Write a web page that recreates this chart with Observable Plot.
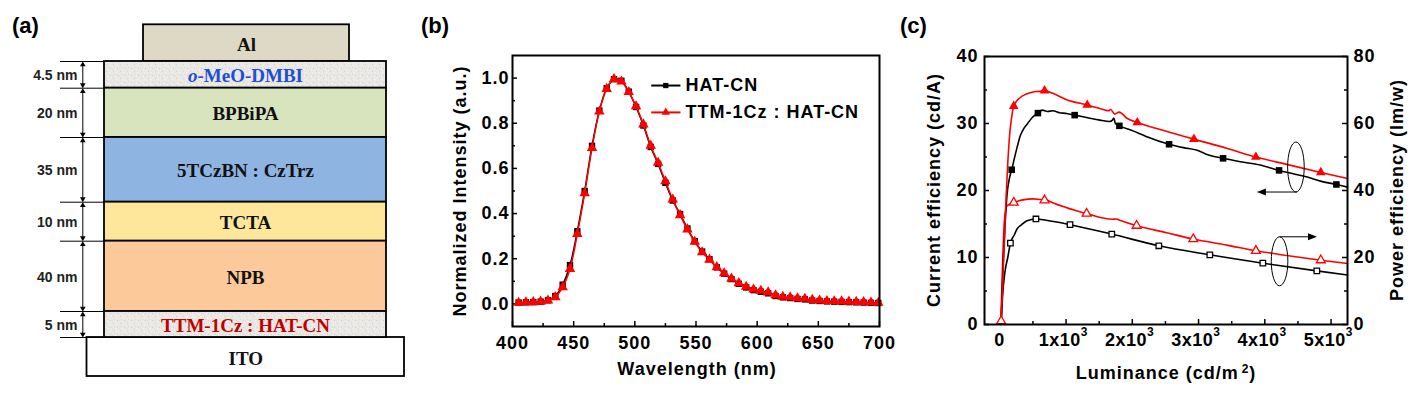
<!DOCTYPE html>
<html><head><meta charset="utf-8">
<script src="https://cdn.jsdelivr.net/npm/d3@7"></script>
<script src="https://cdn.jsdelivr.net/npm/@observablehq/plot@0.6"></script>
<style>
html,body{margin:0;padding:0;background:#fff;}
#root{position:relative;width:1427px;height:398px;overflow:hidden;background:#fff;}
#root svg{position:absolute;top:0;}
</style></head><body><div id="root"></div>
<script>
// ================= Panel (a): device stack =================
const layerNames = ["o-MeO-DMBI", "BPBiPA", "5TCzBN : CzTrz", "TCTA", "NPB", "TTM-1Cz : HAT-CN"];
const layerThickness = ["4.5 nm", "20 nm", "35 nm", "10 nm", "40 nm", "5 nm"];
const layerFills = ["url(#speckle)", "#d8e4bd", "#8eb4e2", "#fee79b", "#fcc99a", "url(#speckle)"];
const layerTextColors = ["#1f4fd0", "#111111", "#111111", "#111111", "#111111", "#c00000"];
const layerDrawHeights = [26.7, 49.3, 64.7, 39, 70.3, 26];   // drawn heights (layout units)
const electrodeNames = ["Al", "ITO"];
const electrodeFills = ["#ddd9c4", "#ffffff"];
const electrodeDrawHeights = [36.7, 39];

// ================= Panel (b): EL spectra =================
const wavelengths = [405,411,417,423,429,435,441,447,453,459,465,471,477,483,489,495,501,507,513,519,525,531,537,543,549,555,561,567,573,579,585,591,597,603,609,615,621,627,633,639,645,651,657,663,669,675,681,687,693,699];
const intensityHATCN = [0.006,0.007,0.008,0.010,0.016,0.035,0.085,0.172,0.322,0.500,0.700,0.856,0.955,0.995,0.988,0.940,0.872,0.790,0.695,0.620,0.536,0.458,0.398,0.334,0.278,0.232,0.198,0.162,0.134,0.110,0.089,0.073,0.061,0.054,0.047,0.035,0.029,0.026,0.022,0.020,0.015,0.013,0.011,0.010,0.009,0.008,0.007,0.006,0.005,0.004];
const intensityTTM = [0.005,0.007,0.008,0.010,0.015,0.030,0.074,0.155,0.310,0.490,0.690,0.852,0.952,0.996,0.985,0.938,0.875,0.795,0.700,0.625,0.543,0.462,0.393,0.330,0.275,0.229,0.196,0.163,0.136,0.112,0.092,0.076,0.064,0.058,0.051,0.038,0.032,0.029,0.025,0.023,0.018,0.015,0.013,0.012,0.011,0.010,0.009,0.008,0.006,0.005];
const seriesNames = ["HAT-CN", "TTM-1Cz : HAT-CN"];
const xTicksB = [400,450,500,550,600,650,700];
const xMinorB = [425,475,525,575,625,675];
const yTicksB = [0,0.2,0.4,0.6,0.8,1.0];
const yMinorB = [0.1,0.3,0.5,0.7,0.9];

// ================= Panel (c): efficiencies =================
// [luminance (cd/m2), current efficiency (cd/A)]
const ceLineHATCN = [[20,0],[35,5],[55,10],[80,15],[110,19.5],[145,21.8],[180,23.1],[220,24.8],[260,26.4],[310,28.2],[360,29.2],[420,30.0],[490,30.9],[575,31.55],[640,32.0],[720,31.8],[800,31.9],[900,31.6],[1010,31.5],[1130,31.25],[1310,30.9],[1510,30.5],[1660,30.3],[1700,30.5],[1720,30.8],[1745,30.0],[1805,29.65],[2010,28.9],[2200,28.1],[2555,26.9],[2770,26.4],[2980,26.0],[3150,25.3],[3370,24.8],[3630,24.3],[3930,23.8],[4215,23.0],[4430,22.5],[4640,22.0],[4840,21.4],[5080,20.9],[5248,20.5]];
const ceMarkHATCN = [[180,23.1],[575,31.55],[1130,31.25],[1805,29.65],[2555,26.9],[3370,24.8],[4215,23.0],[5080,20.9]];
const ceLineTTM = [[15,0.4],[35,4],[55,9],[75,14],[95,19],[120,24],[150,28.5],[180,31],[210,32.6],[300,33.8],[400,34.4],[500,34.7],[600,34.8],[675,34.9],[800,34.5],[1000,33.6],[1320,32.75],[1560,32.1],[1640,31.9],[1675,32.1],[1735,31.4],[1800,31.7],[1925,30.75],[2075,30.15],[2420,29.1],[2930,27.67],[3425,26.3],[3865,25.0],[4330,23.9],[4845,22.7],[5248,21.8]];
const ceMarkTTM = [[210,32.6],[675,34.9],[1320,32.75],[2075,30.15],[2930,27.67],[3865,25.0],[4845,22.7]];
// [luminance (cd/m2), power efficiency (lm/W)]
const peLineHATCN = [[20,0],[40,8],[80,16],[120,20],[160,24.3],[220,26.8],[260,28.5],[330,29.8],[410,31],[545,31.5],[700,31.1],[1060,29.8],[1690,27],[2400,23.5],[3170,20.8],[3970,18.3],[4785,16.0],[5248,14.8]];
const peMarkHATCN = [[160,24.3],[545,31.5],[1060,29.8],[1690,27],[2400,23.5],[3170,20.8],[3970,18.3],[4785,16.0]];
const peLineTTM = [[15,1],[30,10],[45,20],[60,28],[80,33],[110,35.5],[210,36.4],[350,37.2],[500,37.5],[640,37.3],[675,37.6],[720,37.1],[1000,34.9],[1310,33.1],[1700,31.4],[1760,31.5],[1800,31.2],[2065,29.5],[2520,27.4],[2920,25.5],[3425,23.7],[3865,22],[4330,20.6],[4845,19.2],[5248,18.2]];
const peMarkTTM = [[20,1],[210,36.4],[675,37.1],[1310,33.1],[2065,29.5],[2920,25.5],[3865,22],[4845,19.2]];
const xTicksC = [0,1000,2000,3000,4000,5000];
const xMinorC = [500,1500,2500,3500,4500];
const yTicksC = [0,10,20,30,40];      // current efficiency
const yMinorC = [5,15,25,35];
const peScale = 2;                    // right axis = 2 x left axis

const FONT = '"Liberation Sans", Arial, Helvetica, sans-serif';
const SERIF = '"Liberation Serif", "Times New Roman", serif';
const root = document.getElementById("root");

// ---------- Panel (a) ----------
(function(){
  const stackX = [104, 386], alX = [143, 349], itoX = [86.5, 404];
  const stackTop = 61;
  let acc = stackTop;
  const layers = layerNames.map((n, i) => {
    const y1 = acc; acc += layerDrawHeights[i];
    return {name: n, thick: layerThickness[i], fill: layerFills[i], color: layerTextColors[i], x1: stackX[0], x2: stackX[1], y1, y2: acc};
  });
  const bottom = acc;
  const electrodes = [
    {name: electrodeNames[0], fill: electrodeFills[0], color: "#111111", x1: alX[0], x2: alX[1], y1: stackTop - electrodeDrawHeights[0], y2: stackTop},
    {name: electrodeNames[1], fill: electrodeFills[1], color: "#111111", x1: itoX[0], x2: itoX[1], y1: bottom, y2: bottom + electrodeDrawHeights[1]}
  ];
  const boxes = [...electrodes, ...layers];
  const boundaries = [stackTop, ...layers.map(d => d.y2)];
  const arrowX = 82.3;
  const svg = Plot.plot({
    width: 420, height: 398, margin: 0,
    x: {domain: [0, 420], range: [0, 420], axis: null},
    y: {domain: [0, 398], range: [0, 398], axis: null},
    color: {type: "identity"},
    style: {background: "transparent", overflow: "visible"},
    marks: [
      Plot.rect(boxes, {x1: "x1", x2: "x2", y1: "y1", y2: "y2", fill: "fill", stroke: "#000", strokeWidth: 1.8}),
      Plot.text(boxes, {x: d => (d.x1 + d.x2) / 2, y: d => (d.y1 + d.y2) / 2, dy: 1.5, text: "name", fill: "color",
        fontFamily: SERIF, fontWeight: "bold", fontSize: 19}),
      Plot.ruleY(boundaries, {y: d => d, x1: 60, x2: stackX[0], stroke: "#000", strokeWidth: 1}),
      Plot.link(layers, {x1: arrowX, x2: arrowX, y1: d => d.y1 + 3, y2: d => d.y2 - 3, stroke: "#000", strokeWidth: 1}),
      Plot.dot(layers, {x: arrowX, y: "y1", dy: 3.2, symbol: "triangle", r: 2.1, fill: "#000", stroke: null}),
      Plot.dot(layers, {x: arrowX, y: "y2", dy: -3.2, symbol: "triangle", rotate: 180, r: 2.1, fill: "#000", stroke: null}),
      Plot.text(layers, {x: 77, y: d => (d.y1 + d.y2) / 2, dy: 1, text: "thick", textAnchor: "end",
        fontFamily: FONT, fontWeight: "bold", fontSize: 14, fill: "#222"})
    ]
  });
  // speckled texture for the thin layers
  const defs = d3.select(svg).insert("defs", ":first-child");
  const pat = defs.append("pattern").attr("id", "speckle").attr("patternUnits", "userSpaceOnUse").attr("width", 7).attr("height", 7);
  pat.append("rect").attr("width", 7).attr("height", 7).attr("fill", "#e9e8e5");
  [[1,1,"#d4d3cf"],[4,2,"#f6f6f4"],[2,4,"#dcdbd7"],[5,5,"#d0cfcb"],[6,0,"#f3f3f1"],[0,6,"#dedcd8"],[3,6,"#f5f5f3"]]
    .forEach(([x, y, c]) => pat.append("rect").attr("x", x).attr("y", y).attr("width", 1).attr("height", 1).attr("fill", c));
  // italic "o" prefix
  d3.select(svg).selectAll("text").each(function(){
    if (this.textContent === "o-MeO-DMBI") {
      const t = d3.select(this); t.text(null);
      t.append("tspan").attr("font-style", "italic").text("o");
      t.append("tspan").text("-MeO-DMBI");
    }
  });
  svg.style.left = "0px";
  root.appendChild(svg);
})();

// ---------- Panel (b) ----------
(function(){
  const red = wavelengths.map((w, i) => ({w, v: intensityTTM[i]}));
  const blk = wavelengths.map((w, i) => ({w, v: intensityHATCN[i]}));
  const fh = 398 - 55 - 72, fw = 460 - 72 - 21;
  const leg = [{name: seriesNames[0], y: 0.967, color: "#000", symbol: "square", r: 3.6},
               {name: seriesNames[1], y: 0.848, color: "#ff0000", symbol: "triangle", r: 4.0}];
  const svg = Plot.plot({
    width: 460, height: 398, marginLeft: 72, marginRight: 21, marginTop: 55, marginBottom: 72,
    x: {domain: [400, 700], label: null},
    y: {domain: [-0.1, 1.1], label: null},
    style: {fontFamily: FONT, fontSize: "18px", fontWeight: "bold", letterSpacing: "1px", background: "transparent", overflow: "visible", color: "#000"},
    marks: [
      Plot.tickX(xTicksB, {x: d => d, insetTop: fh - 5, stroke: "#000", strokeWidth: 1.5}),
      Plot.tickX(xMinorB, {x: d => d, insetTop: fh - 3, stroke: "#000", strokeWidth: 1.5}),
      Plot.tickY(yTicksB, {y: d => d, insetRight: fw - 5, stroke: "#000", strokeWidth: 1.5}),
      Plot.tickY(yMinorB, {y: d => d, insetRight: fw - 3, stroke: "#000", strokeWidth: 1.5}),
      Plot.line(blk, {x: "w", y: "v", stroke: "#000", strokeWidth: 1.5, curve: "catmull-rom"}),
      Plot.dot(blk, {x: "w", y: "v", symbol: "square", r: 3.6, fill: "#000", stroke: null}),
      Plot.line(red, {x: "w", y: "v", stroke: "#ff0000", strokeWidth: 1.5, curve: "catmull-rom"}),
      Plot.dot(red, {x: "w", y: "v", symbol: "triangle", r: 3.9, fill: "#ff0000", stroke: null}),
      Plot.link(leg, {x1: 513.4, x2: 537.3, y1: "y", y2: "y", stroke: "color", strokeWidth: 2}),
      Plot.dot(leg, {x: 525.3, y: "y", symbol: "symbol", r: "r", fill: "color", stroke: null}),
      Plot.text(leg, {x: 541.4, y: "y", text: "name", textAnchor: "start", fontSize: 18, fontWeight: "bold", fill: "#000"}),
      Plot.frame({stroke: "#000", strokeWidth: 2}),
      Plot.axisX({ticks: xTicksB, tickSize: 0, tickPadding: 10, fontSize: 18, fontWeight: "bold"}),
      Plot.axisY({ticks: yTicksB, tickFormat: d3.format(".1f"), tickSize: 0, tickPadding: 3, fontSize: 18, fontWeight: "bold"})
    ]
  });
  svg.style.left = "440px";
  root.appendChild(svg);
})();

// ---------- Panel (c) ----------
(function(){
  const fh = 398 - 56 - 74, fw = 527 - 84 - 80;
  const xy = {x: d => d[0], y: d => d[1]};
  const xyPE = {x: d => d[0], y: d => d[1] / peScale};
  const svg = Plot.plot({
    width: 527, height: 398, marginLeft: 84, marginRight: 80, marginTop: 56, marginBottom: 74,
    x: {domain: [-231, 5248], label: null},
    y: {domain: [0, 40], label: null},
    style: {fontFamily: FONT, fontSize: "18px", fontWeight: "bold", letterSpacing: "1px", background: "transparent", overflow: "visible", color: "#000"},
    marks: [
      Plot.tickX(xTicksC, {x: d => d, insetTop: fh - 5, stroke: "#000", strokeWidth: 1.5}),
      Plot.tickX(xMinorC, {x: d => d, insetTop: fh - 3, stroke: "#000", strokeWidth: 1.5}),
      Plot.tickY(yTicksC, {y: d => d, insetRight: fw - 5, stroke: "#000", strokeWidth: 1.5}),
      Plot.tickY(yMinorC, {y: d => d, insetRight: fw - 3, stroke: "#000", strokeWidth: 1.5}),
      Plot.tickY(yTicksC, {y: d => d, insetLeft: fw - 5, stroke: "#000", strokeWidth: 1.5}),
      Plot.tickY(yMinorC, {y: d => d, insetLeft: fw - 3, stroke: "#000", strokeWidth: 1.5}),
      Plot.line(peLineHATCN, {...xyPE, stroke: "#000", strokeWidth: 1.6, curve: "monotone-x"}),
      Plot.line(peLineTTM, {...xyPE, stroke: "#ff0000", strokeWidth: 1.6, curve: "monotone-x"}),
      Plot.line(ceLineHATCN, {...xy, stroke: "#000", strokeWidth: 1.6, curve: "monotone-x"}),
      Plot.line(ceLineTTM, {...xy, stroke: "#ff0000", strokeWidth: 1.6, curve: "monotone-x"}),
      Plot.dot(peMarkHATCN, {...xyPE, symbol: "square", r: 3.1, fill: "#fff", stroke: "#000", strokeWidth: 1.3}),
      Plot.dot(peMarkTTM, {...xyPE, symbol: "triangle", r: 3.3, fill: "#fff", stroke: "#ff0000", strokeWidth: 1.3}),
      Plot.dot(ceMarkHATCN, {...xy, symbol: "square", r: 3.7, fill: "#000", stroke: null}),
      Plot.dot(ceMarkTTM, {...xy, symbol: "triangle", r: 3.6, fill: "#ff0000", stroke: null}),
      Plot.frame({stroke: "#000", strokeWidth: 2}),
      Plot.axisX({ticks: xTicksC, tickFormat: d => d === 0 ? "0" : `${d / 1000}x10^3`, tickSize: 0, tickPadding: 9, fontSize: 18, fontWeight: "bold"}),
      Plot.axisY({ticks: yTicksC, tickSize: 0, tickPadding: 6, fontSize: 18, fontWeight: "bold"}),
      Plot.axisY({anchor: "right", ticks: yTicksC, tickFormat: d => String(d * peScale), tickSize: 0, tickPadding: 6, fontSize: 18, fontWeight: "bold"})
    ]
  });
  // superscript exponents on the luminance tick labels
  d3.select(svg).selectAll("text").each(function(){
    const s = this.textContent;
    if (/\^/.test(s)) {
      const [base, exp] = s.split("^");
      const t = d3.select(this).attr("letter-spacing", "0.5px"); t.text(null);
      t.append("tspan").attr("dx", -3).text(base);
      t.append("tspan").attr("font-size", 12).attr("letter-spacing", "0px").attr("dy", -10.5).text(exp);
    }
  });
  // guide annotations (ellipse + arrow) in data coordinates
  const sx = svg.scale("x"), sy = svg.scale("y");
  const annotations = [
    {lum: 4477, val: 23.43, rx: 8.3, ry: 25, from: "bottom", tipLum: 3888},
    {lum: 4230, val: 9.36, rx: 8.3, ry: 24.5, from: "top", tipLum: 4795}
  ];
  const g = d3.select(svg).append("g").attr("fill", "none").attr("stroke", "#000").attr("stroke-width", 1);
  annotations.forEach(a => {
    const cx = sx.apply(a.lum), cy = sy.apply(a.val);
    g.append("ellipse").attr("cx", cx).attr("cy", cy).attr("rx", a.rx).attr("ry", a.ry);
    const y0 = a.from === "bottom" ? cy + a.ry : cy - a.ry;
    const tx = sx.apply(a.tipLum);
    const dir = tx < cx ? -1 : 1;
    g.append("line").attr("x1", cx + (a.from === "bottom" ? 1 : 0)).attr("y1", y0).attr("x2", tx - dir * 8).attr("y2", y0);
    g.append("path").attr("d", `M${tx},${y0}L${tx - dir * 9},${y0 - 3.5}L${tx - dir * 9},${y0 + 3.5}Z`).attr("fill", "#000").attr("stroke", "none");
  });
  svg.style.left = "900px";
  root.appendChild(svg);
})();

// ---------- Overlay titles and panel letters ----------
(function(){
  const ov = d3.select(root).append("svg").attr("width", 1427).attr("height", 398)
    .style("left", "0px").style("pointer-events", "none")
    .attr("font-family", FONT).attr("font-weight", "bold").attr("fill", "#000");
  const letters = [{t: "(a)", x: 12}, {t: "(b)", x: 421}, {t: "(c)", x: 900}];
  ov.selectAll("text.pl").data(letters).join("text").attr("class", "pl")
    .attr("x", d => d.x).attr("y", 32.5).attr("font-size", 22).text(d => d.t);
  const titles = [
    {t: "Normalized Intensity (a.u.)", x: 466, y: 191, rot: -90},
    {t: "Wavelength (nm)", x: 697, y: 375, rot: 0},
    {t: "Current efficiency (cd/A)", x: 939.5, y: 190, rot: -90},
    {t: "Power efficiency (lm/w)", x: 1403, y: 190, rot: -90}
  ];
  ov.selectAll("text.tt").data(titles).join("text").attr("class", "tt")
    .attr("transform", d => `translate(${d.x},${d.y}) rotate(${d.rot})`)
    .attr("text-anchor", "middle").attr("font-size", 18).attr("letter-spacing", "1px").text(d => d.t);
  const lum = ov.append("text").attr("x", 1166).attr("y", 378.5).attr("text-anchor", "middle")
    .attr("font-size", 18).attr("letter-spacing", "1px");
  lum.append("tspan").text("Luminance (cd/m");
  lum.append("tspan").attr("font-size", 12).attr("dy", -5.5).attr("dx", 3).text("2");
  lum.append("tspan").attr("dy", 5.5).text(")");
})();
</script></body></html>
